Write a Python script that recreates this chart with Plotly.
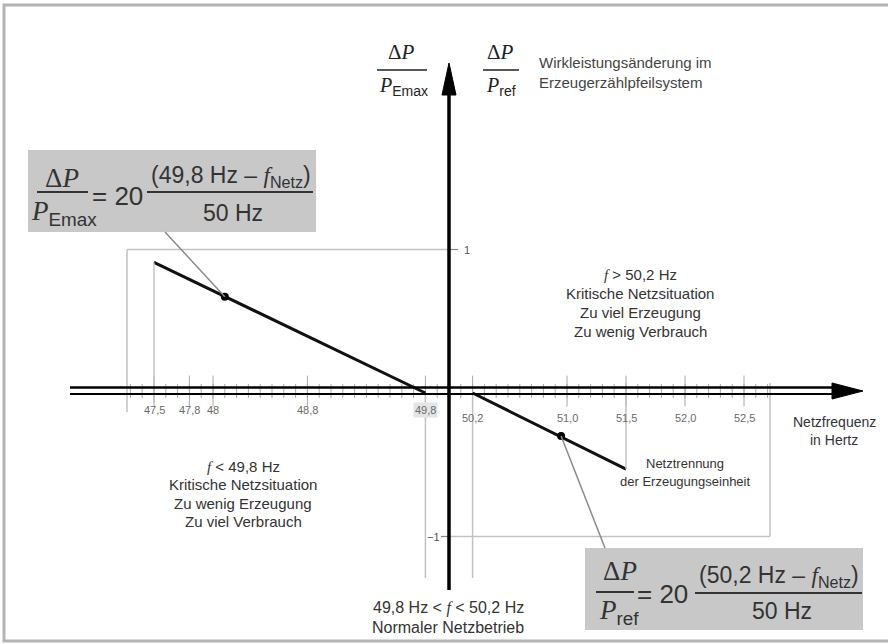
import plotly.graph_objects as go

W, H = 888, 644

# ---------------- data ----------------
freq_low = [47.5, 49.8]          # Hz
dp_low = [0.91, 0.0]             # ΔP/P_Emax
freq_high = [50.2, 51.5]         # Hz
dp_high = [0.0, -0.53]           # ΔP/P_ref
point_f = [48.1, 50.95]
point_dp = [0.67, -0.30]
tick_vals = [47.5, 47.8, 48.0, 48.8, 49.8, 50.2, 51.0, 51.5, 52.0, 52.5]
tick_text = ["47,5", "47,8", "48", "48,8", "49,8", "50,2", "51,0", "51,5", "52,0", "52,5"]
minor_ticks = [round(47.3 + 0.1 * i, 1) for i in range(55)]
y_ticks = [1, -1]
y_tick_text = ["1", "\u22121"]

# ---------------- pixel <-> data mapping ----------------
F0, X0, SX = 50.0, 449.0, 118.0
Y0, SY = 393.0, 143.5


def fx(px):
    return F0 + (px - X0) / SX


def fy(py):
    return (Y0 - py) / SY


SANS = "Liberation Sans"
SERIF = "Liberation Serif"
GUIDE = "#c2c2c2"

fig = go.Figure()

shapes = []


def line(x0, y0, x1, y1, color, width):
    shapes.append(dict(type="line", xref="x", yref="y", x0=x0, y0=y0, x1=x1, y1=y1,
                       line=dict(color=color, width=width), layer="above"))


def pline(x0, y0, x1, y1, color, width):
    line(fx(x0), fy(y0), fx(x1), fy(y1), color, width)


# outer frame
shapes.append(dict(type="rect", xref="x", yref="y", x0=fx(4), y0=fy(5), x1=fx(900), y1=fy(641),
                   line=dict(color="#b4b4b4", width=3), layer="below"))
# formula boxes
shapes.append(dict(type="rect", xref="x", yref="y", x0=fx(28), y0=fy(150), x1=fx(316), y1=fy(232),
                   fillcolor="#c8c8c8", line=dict(width=0), layer="below"))
shapes.append(dict(type="rect", xref="x", yref="y", x0=fx(585), y0=fy(548), x1=fx(863), y1=fy(630),
                   fillcolor="#c8c8c8", line=dict(width=0), layer="below"))

# guide lines
line(fx(127), y_ticks[0], F0, y_ticks[0], GUIDE, 1.5)
line(F0, y_ticks[0], fx(458), y_ticks[0], "#888", 1.2)
line(fx(127), y_ticks[0], fx(127), fy(412), GUIDE, 1.5)
line(freq_low[0], dp_low[0], freq_low[0], fy(403), GUIDE, 1.5)
line(freq_low[1], fy(396), freq_low[1], fy(578), GUIDE, 1.5)
line(freq_high[0], fy(396), freq_high[0], fy(578), GUIDE, 1.5)
line(freq_high[1], fy(383), freq_high[1], dp_high[1], GUIDE, 1.5)
line(F0, y_ticks[1], fx(770), y_ticks[1], GUIDE, 1.5)
line(fx(441), y_ticks[1], F0, y_ticks[1], "#888", 1.2)
line(fx(770), fy(383), fx(770), y_ticks[1], GUIDE, 1.5)

# leader lines
line(point_f[0], point_dp[0], fx(165), fy(232), "#8a8a8a", 1.5)
line(point_f[1], point_dp[1], fx(605), fy(548), "#8a8a8a", 1.5)

# x axis (double line) + arrow
pline(70, 387.5, 845, 387.5, "black", 2.5)
pline(70, 394, 840, 394, "black", 2)
shapes.append(dict(type="path", xref="x", yref="y",
                   path=f"M {fx(863)},{fy(391)} L {fx(832)},{fy(383)} L {fx(832)},{fy(399)} Z",
                   fillcolor="black", line=dict(color="black", width=1), layer="above"))
# y axis + arrow
line(F0, fy(590), F0, fy(92), "black", 3.5)
shapes.append(dict(type="path", xref="x", yref="y",
                   path=f"M {fx(449)},{fy(63)} L {fx(442)},{fy(95)} L {fx(456)},{fy(95)} Z",
                   fillcolor="black", line=dict(color="black", width=1), layer="above"))

# fraction bars
pline(377, 70, 427, 70, "#222", 1.5)
pline(483, 70, 519, 70, "#222", 1.5)
pline(37, 192, 88, 192, "#333", 2)
pline(147, 192, 313, 192, "#333", 2)
pline(596, 592, 634, 592, "#333", 2)
pline(695, 593, 862, 593, "#333", 2)

# ---------------- traces ----------------
fig.add_trace(go.Scatter(x=minor_ticks, y=[fy(391)] * len(minor_ticks), mode="markers",
                         marker=dict(symbol="line-ns", size=10, line=dict(color="#a8a8a8", width=1)),
                         hoverinfo="skip", showlegend=False))
fig.add_trace(go.Scatter(x=tick_vals, y=[fy(391)] * len(tick_vals), mode="markers",
                         marker=dict(symbol="line-ns", size=22, line=dict(color="#a8a8a8", width=1)),
                         hoverinfo="skip", showlegend=False))
fig.add_trace(go.Scatter(x=freq_low, y=dp_low, mode="lines",
                         line=dict(color="#111", width=3), showlegend=False))
fig.add_trace(go.Scatter(x=freq_high, y=dp_high, mode="lines",
                         line=dict(color="#111", width=3), showlegend=False))
fig.add_trace(go.Scatter(x=point_f, y=point_dp, mode="markers",
                         marker=dict(color="black", size=8), showlegend=False))

# ---------------- annotations ----------------
ann = []


def text(px, py, t, size=14, color="#333", family=SANS, xanchor="center", bg=None):
    d = dict(x=fx(px), y=fy(py), xref="x", yref="y", text=t, showarrow=False,
             font=dict(size=size, color=color, family=family), xanchor=xanchor, yanchor="middle")
    if bg:
        d["bgcolor"] = bg
    ann.append(d)


# tick labels
for v, t in zip(tick_vals, tick_text):
    yy = 410 if v < F0 else 418
    d = dict(x=v, y=fy(yy), xref="x", yref="y", text=t, showarrow=False,
             font=dict(size=11, color="#6a6a6a", family=SANS), xanchor="center", yanchor="middle")
    if t == "49,8":
        d["bgcolor"] = "#e4e4e4"
    ann.append(d)

ann.append(dict(x=fx(467), y=y_ticks[0], xref="x", yref="y", text=y_tick_text[0], showarrow=False,
                font=dict(size=11, color="#555", family=SANS), xanchor="center", yanchor="middle"))
ann.append(dict(x=fx(433), y=y_ticks[1], xref="x", yref="y", text=y_tick_text[1], showarrow=False,
                font=dict(size=11, color="#555", family=SANS), xanchor="center", yanchor="middle"))

SF = f"<span style='font-family:{SERIF}'><i>f</i></span>"

# axis titles
text(834, 422, "Netzfrequenz", 14, "#333")
text(834, 440, "in Hertz", 14, "#333")

# top labels
text(401, 52, "\u0394<i>P</i>", 21, "#222", SERIF)
text(403, 86, f"<i>P</i><sub><span style='font-family:{SANS}'>Emax</span></sub>", 20, "#222", SERIF)
text(500, 52, "\u0394<i>P</i>", 21, "#222", SERIF)
text(501, 86, f"<i>P</i><sub><span style='font-family:{SANS}'>ref</span></sub>", 20, "#222", SERIF)
text(537, 62, "Wirkleistungsänderung im", 15, "#444", xanchor="left")
text(537, 82, "Erzeugerzählpfeilsystem", 15, "#444", xanchor="left")

# region texts
for i, t in enumerate([f"{SF} > 50,2 Hz", "Kritische Netzsituation", "Zu viel Erzeugung", "Zu wenig Verbrauch"]):
    text(640, 274 + 19 * i, t, 15, "#333")
for i, t in enumerate([f"{SF} < 49,8 Hz", "Kritische Netzsituation", "Zu wenig Erzeugung", "Zu viel Verbrauch"]):
    text(243, 466 + 18.5 * i, t, 15, "#333")
text(685, 463, "Netztrennung", 13, "#333")
text(685, 481, "der Erzeugungseinheit", 13, "#333")
text(448, 608, f"49,8 Hz < {SF} < 50,2 Hz", 16, "#333")
text(448, 627, "Normaler Netzbetrieb", 16, "#333")

# formula box left
text(62, 178, "\u0394<i>P</i>", 27, "#333", SERIF)
text(64, 213, f"<i>P</i><sub><span style='font-family:{SANS}'>Emax</span></sub>", 27, "#333", SERIF)
text(117, 196, "= 20", 26, "#333")
text(231, 176, f"(49,8 Hz \u2013 {SF}<sub>Netz</sub>)", 23, "#333")
text(233, 213, "50 Hz", 23, "#333")

# formula box right
text(620, 571, "\u0394<i>P</i>", 27, "#333", SERIF)
text(619, 612, f"<i>P</i><sub><span style='font-family:{SANS}'>ref</span></sub>", 27, "#333", SERIF)
text(662, 594, "= 20", 26, "#333")
text(779, 576, f"(50,2 Hz \u2013 {SF}<sub>Netz</sub>)", 23, "#333")
text(782, 611, "50 Hz", 23, "#333")

fig.update_layout(
    width=W, height=H,
    margin=dict(l=0, r=0, t=0, b=0),
    paper_bgcolor="white", plot_bgcolor="white",
    xaxis=dict(range=[fx(0), fx(W)], visible=False, fixedrange=True),
    yaxis=dict(range=[fy(H), fy(0)], visible=False, fixedrange=True),
    shapes=shapes,
    annotations=ann,
    showlegend=False,
)

fig.write_html("out.html", config={"displayModeBar": False},
               post_script="document.body.style.margin='0';document.body.style.overflow='hidden';")
